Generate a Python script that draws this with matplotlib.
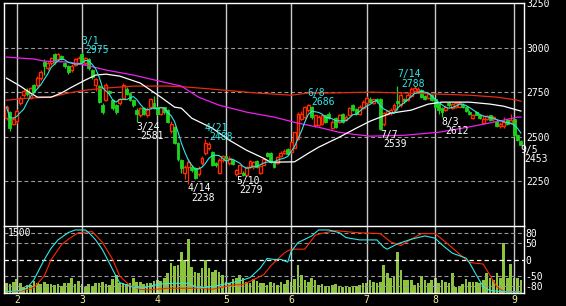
import numpy as np
import pandas as pd
import matplotlib
matplotlib.use("Agg")
import matplotlib.pyplot as plt

plt.rcParams['font.family'] = 'DejaVu Sans Mono'
plt.rcParams['axes.unicode_minus'] = False

# trading calendar (Tokyo, 2011)
holidays = ["2011-02-11", "2011-03-21", "2011-04-29", "2011-05-03",
            "2011-05-04", "2011-05-05", "2011-07-18"]
dates = pd.bdate_range("2011-01-27", "2011-09-05")
dates = dates[~dates.isin(pd.to_datetime(holidays))]

opens = [2605, 2638, 2575, 2590, 2690, 2735, 2760, 2718, 2790, 2790,
         2830, 2920, 2885, 2915, 2965, 2937, 2955, 2912, 2900, 2873,
         2905, 2915, 2965, 2915, 2935, 2875, 2790, 2785, 2680, 2705,
         2760, 2705, 2680, 2690, 2720, 2770, 2745, 2706, 2650, 2620,
         2660, 2620, 2665, 2690, 2670, 2630, 2665, 2650, 2535, 2555,
         2465, 2370, 2295, 2332, 2330, 2325, 2290, 2355, 2410, 2435,
         2415, 2355, 2295, 2370, 2390, 2355, 2370, 2290, 2300, 2300,
         2285, 2330, 2330, 2365, 2295, 2345, 2410, 2410, 2360, 2355,
         2390, 2410, 2430, 2415, 2440, 2490, 2600, 2610, 2650, 2670,
         2565, 2565, 2570, 2620, 2630, 2550, 2605, 2585, 2630, 2595,
         2620, 2680, 2655, 2630, 2660, 2690, 2710, 2690, 2715, 2715,
         2570, 2630, 2635, 2655, 2700, 2680, 2710, 2705, 2730, 2760,
         2760, 2765, 2730, 2720, 2735, 2710, 2690, 2660, 2650, 2690,
         2660, 2670, 2670, 2680, 2670, 2640, 2605, 2640, 2625, 2580,
         2600, 2620, 2600, 2590, 2560, 2560, 2595, 2580, 2600, 2510,
         2475]
closes = [2667, 2548, 2600, 2646, 2720, 2760, 2740, 2773, 2752, 2830,
          2863, 2900, 2915, 2940, 2920, 2965, 2940, 2898, 2865, 2900,
          2937, 2945, 2920, 2945, 2885, 2835, 2825, 2695, 2640, 2790,
          2745, 2660, 2640, 2715, 2790, 2740, 2706, 2680, 2630, 2660,
          2630, 2655, 2710, 2660, 2630, 2665, 2640, 2585, 2575, 2465,
          2375, 2325, 2330, 2360, 2315, 2270, 2325, 2380, 2465, 2460,
          2340, 2340, 2370, 2390, 2380, 2380, 2350, 2315, 2340, 2285,
          2330, 2365, 2360, 2330, 2335, 2375, 2395, 2360, 2330, 2385,
          2410, 2420, 2405, 2470, 2525, 2630, 2630, 2665, 2680, 2610,
          2620, 2610, 2620, 2585, 2605, 2585, 2555, 2620, 2585, 2610,
          2660, 2650, 2630, 2670, 2695, 2720, 2695, 2710, 2700, 2545,
          2635, 2645, 2650, 2680, 2690, 2735, 2700, 2735, 2770, 2775,
          2770, 2725, 2715, 2740, 2705, 2665, 2650, 2640, 2670, 2680,
          2685, 2690, 2690, 2670, 2645, 2630, 2625, 2625, 2605, 2600,
          2615, 2595, 2610, 2560, 2575, 2585, 2570, 2595, 2510, 2480,
          2455]
highs = [2680, 2645, 2610, 2655, 2730, 2770, 2775, 2780, 2795, 2840,
         2875, 2935, 2925, 2950, 2970, 2970, 2960, 2920, 2905, 2910,
         2945, 2955, 2975, 2950, 2940, 2880, 2830, 2790, 2690, 2800,
         2765, 2710, 2685, 2720, 2800, 2780, 2750, 2710, 2660, 2670,
         2670, 2665, 2720, 2730, 2675, 2670, 2670, 2655, 2590, 2560,
         2470, 2375, 2340, 2375, 2340, 2330, 2335, 2390, 2488, 2470,
         2420, 2360, 2380, 2400, 2395, 2390, 2375, 2320, 2345, 2310,
         2335, 2370, 2365, 2370, 2340, 2380, 2415, 2415, 2365, 2390,
         2420, 2430, 2435, 2475, 2530, 2640, 2645, 2675, 2686, 2675,
         2625, 2620, 2625, 2625, 2640, 2595, 2610, 2630, 2635, 2620,
         2665, 2685, 2660, 2680, 2705, 2730, 2725, 2715, 2720, 2720,
         2640, 2650, 2660, 2690, 2788, 2745, 2720, 2745, 2780, 2785,
         2780, 2770, 2735, 2745, 2740, 2715, 2695, 2665, 2680, 2695,
         2690, 2695, 2700, 2690, 2675, 2650, 2630, 2645, 2630, 2620,
         2625, 2625, 2615, 2600, 2585, 2610, 2600, 2630, 2605, 2515,
         2480]
lows = [2595, 2535, 2565, 2580, 2680, 2725, 2730, 2710, 2745, 2780,
        2820, 2850, 2875, 2905, 2910, 2930, 2930, 2885, 2855, 2865,
        2895, 2910, 2910, 2905, 2875, 2825, 2760, 2690, 2630, 2700,
        2735, 2650, 2630, 2680, 2710, 2735, 2700, 2670, 2581, 2610,
        2620, 2610, 2655, 2655, 2620, 2620, 2630, 2580, 2520, 2460,
        2365, 2300, 2265, 2238, 2305, 2265, 2280, 2345, 2400, 2425,
        2335, 2330, 2290, 2360, 2370, 2345, 2340, 2279, 2295, 2280,
        2280, 2325, 2320, 2325, 2290, 2340, 2385, 2355, 2325, 2350,
        2385, 2405, 2400, 2410, 2435, 2485, 2595, 2600, 2640, 2600,
        2555, 2560, 2565, 2580, 2600, 2545, 2550, 2580, 2580, 2590,
        2615, 2645, 2625, 2625, 2655, 2685, 2690, 2685, 2690, 2539,
        2560, 2620, 2625, 2640, 2650, 2670, 2690, 2700, 2725, 2755,
        2755, 2720, 2705, 2710, 2700, 2660, 2630, 2612, 2645, 2670,
        2655, 2660, 2665, 2660, 2640, 2625, 2600, 2620, 2600, 2575,
        2595, 2590, 2590, 2555, 2550, 2550, 2565, 2575, 2500, 2475,
        2453]
volume = [225, 200, 230, 300, 211, 128, 181, 170, 270, 211,
          188, 241, 188, 188, 170, 200, 160, 211, 211, 338,
          188, 263, 200, 130, 188, 151, 211, 226, 241, 200,
          170, 301, 391, 211, 226, 188, 226, 338, 250, 241,
          188, 226, 226, 263, 286, 263, 323, 450, 675, 600,
          623, 923, 736, 1200, 585, 472, 451, 548, 736, 548,
          473, 511, 473, 398, 248, 211, 301, 323, 398, 323,
          248, 211, 301, 271, 211, 211, 173, 248, 211, 173,
          248, 196, 286, 248, 301, 623, 398, 286, 248, 323,
          286, 173, 196, 151, 151, 173, 196, 121, 121, 151,
          121, 151, 151, 173, 226, 211, 286, 248, 211, 248,
          623, 451, 323, 361, 923, 511, 286, 286, 286, 173,
          211, 376, 286, 211, 286, 323, 226, 286, 248, 211,
          451, 136, 151, 196, 301, 248, 248, 248, 211, 286,
          436, 323, 286, 436, 323, 1110, 323, 645, 323, 323,
          286]

# moving averages (trading-day number, price)
ma_white_day = [0, 4, 7, 9, 13, 16, 19, 23, 26, 29, 33, 39, 45, 49, 51, 54, 60, 65,
                70, 75, 77, 84, 88, 91, 97, 102, 106, 112, 118, 123, 127, 135,
                141, 145, 149, 150]
ma_white_val = [2830, 2785, 2746, 2723, 2723, 2746, 2779, 2819, 2847, 2852, 2841,
                2802, 2723, 2667, 2661, 2605, 2549, 2481, 2425, 2380, 2358, 2360,
                2408, 2442, 2498, 2549, 2588, 2633, 2650, 2684, 2695, 2695, 2684,
                2672, 2650, 2645]
ma_mag_day = [0, 4, 8, 11, 18, 23, 29, 37, 47, 51, 56, 62, 70, 78, 85, 91, 97, 101,
              106, 116, 126, 133, 139, 145, 149, 150]
ma_mag_val = [2948, 2942, 2937, 2925, 2920, 2903, 2875, 2847, 2802, 2785, 2723,
              2678, 2639, 2611, 2577, 2554, 2526, 2515, 2504, 2509, 2526, 2549,
              2571, 2594, 2611, 2611]
ma_red_day = [0, 6, 13, 18, 23, 29, 37, 47, 53, 60, 73, 83, 88, 94, 106, 116, 126,
              135, 143, 149, 150]
ma_red_val = [2706, 2717, 2723, 2746, 2762, 2774, 2785, 2785, 2779, 2768, 2746,
              2734, 2746, 2746, 2751, 2746, 2740, 2734, 2723, 2706, 2700]

# oscillator (two lines, -100..100)
osc_cyan_day = [0, 4, 6, 8, 11, 13, 15, 18, 20, 23, 24, 26, 28, 30, 32, 33, 35, 37,
                40, 42, 45, 49, 53, 56, 59, 61, 68, 71, 74, 76, 78, 80, 82, 83,
                85, 86, 89, 91, 94, 97, 99, 103, 108, 110, 111, 114, 118, 122,
                125, 127, 130, 134, 135, 137, 139, 141, 146, 150]
osc_cyan_val = [-96, -93, -85, -60, 0, 35, 60, 82, 90, 90, 82, 60, 30, -10, -51,
                -69, -76, -83, -86, -79, -73, -71, -71, -85, -82, -79, -64, -54,
                -25, 4, 1, 1, -7, 25, 52, 57, 72, 90, 90, 82, 67, 60, 60, 38, 32,
                48, 62, 72, 65, 45, 20, 5, -9, -46, -81, -93, -97, -97]
osc_red_day = [0, 4, 8, 11, 13, 16, 18, 21, 25, 28, 31, 33, 36, 39, 41, 47, 56, 60,
               66, 69, 72, 75, 77, 79, 81, 83, 87, 90, 92, 96, 102, 109, 112, 115,
               118, 121, 125, 129, 133, 135, 139, 141, 143, 145, 150]
osc_red_val = [-96, -95, -84, -49, 0, 45, 62, 82, 85, 52, 0, -49, -78, -89, -91,
               -86, -86, -89, -76, -75, -60, -45, -19, 1, 21, 32, 32, 74, 80, 88,
               82, 79, 54, 43, 62, 79, 79, 45, 9, -8, -13, -47, -82, -96, -96]

peak_dates = ["2011-03-01", "2011-04-21", "2011-06-08", "2011-07-14"]
peak_vals = [2975, 2488, 2686, 2788]
trough_dates = ["2011-03-24", "2011-04-14", "2011-05-10", "2011-07-07",
                "2011-08-03", "2011-09-05"]
trough_vals = [2581, 2238, 2279, 2539, 2612, 2453]

price_ticks = [2250, 2500, 2750, 3000, 3250]
osc_ticks = [-80, -50, 0, 50, 80]

# ---------------------------------------------------------------
n = len(dates)
days = np.arange(n)
o = np.array(opens); c = np.array(closes)
h = np.array(highs); l = np.array(lows)
ma5 = pd.Series(closes).rolling(5, min_periods=1).mean()

month_start = [i for i in range(1, n) if dates[i].month != dates[i - 1].month]
month_lab = [str(dates[i].month) for i in month_start]

W, H = 566, 306
fig = plt.figure(figsize=(W / 100, H / 100), dpi=100, facecolor='black')
ax = fig.add_axes([4 / W, 1 - 226 / H, 520 / W, 223.5 / H], facecolor='black')
axo = fig.add_axes([4 / W, 1 - 292.7 / H, 520 / W, 66.7 / H], facecolor='black')
axv = axo.twinx()
axo.set_zorder(axv.get_zorder() + 1)
axo.patch.set_visible(False)

GREEN = '#1ed21e'
RED = '#ff2a00'
CYAN = '#30e8e8'
grid_kw = dict(color='#9a9a9a', lw=0.8, ls=(0, (3.5, 2.5)), zorder=0)

# main panel
for p in price_ticks[:-1]:
    ax.axhline(p, **grid_kw)
for m in month_start:
    ax.axvline(m, color='#c8c8c8', lw=1, zorder=0)
    axo.axvline(m, color='#c8c8c8', lw=1, zorder=0)

up = c >= o
ax.vlines(days[up], l[up], h[up], color=RED, lw=0.9, zorder=2)
ax.vlines(days[~up], l[~up], h[~up], color=GREEN, lw=0.9, zorder=2)
ax.bar(days[up], c[up] - o[up], bottom=o[up], width=0.85, facecolor='black',
       edgecolor=RED, lw=1.0, zorder=3)
ax.bar(days[~up], o[~up] - c[~up], bottom=c[~up], width=0.85, color=GREEN,
       edgecolor=GREEN, lw=0.6, zorder=3)

ax.plot(ma_red_day, ma_red_val, color='#e82a10', lw=0.9, zorder=4)
ax.plot(ma_mag_day, ma_mag_val, color='#f020f0', lw=0.9, zorder=4)
ax.plot(ma_white_day, ma_white_val, color='white', lw=0.9, zorder=4)
ax.plot(days, ma5, color=CYAN, lw=0.8, zorder=5)

lab_kw = dict(textcoords='offset points', ha='left', va='baseline',
              fontsize=7, annotation_clip=False, zorder=6)
for d, v in zip(peak_dates, peak_vals):
    i = dates.get_loc(pd.Timestamp(d))
    ts = pd.Timestamp(d)
    ax.annotate(f"{ts.month}/{ts.day}", (i, v), xytext=(-0.3, 5.8), color=CYAN, **lab_kw)
    ax.annotate(str(v), (i, v), xytext=(2.5, -0.9), color=CYAN, **lab_kw)
for d, v in zip(trough_dates, trough_vals):
    i = dates.get_loc(pd.Timestamp(d))
    ts = pd.Timestamp(d)
    ax.annotate(f"{ts.month}/{ts.day}", (i, v), xytext=(-0.3, -5.6), color='white', **lab_kw)
    ax.annotate(str(v), (i, v), xytext=(2.5, -12.2), color='white', **lab_kw)

ax.set_xlim(-0.73, 150.9)
ax.set_ylim(2000, 3254)
ax.set_xticks([])
ax.yaxis.tick_right()
ax.set_yticks(price_ticks)
ax.tick_params(axis='y', length=0, pad=2, colors='white', labelsize=7)
for s in ['top', 'left', 'right']:
    ax.spines[s].set_color('white')
    ax.spines[s].set_linewidth(1)
ax.spines['bottom'].set_visible(False)

# lower panel: volume + oscillator
axv.bar(days, volume, width=0.78, color='#8cc43c', zorder=1)
axv.set_ylim(0, 1500)
axv.set_yticks([])
for s in axv.spines.values():
    s.set_visible(False)

for v in [80, 50, -50, -80]:
    axo.axhline(v, **grid_kw)
axo.axhline(0, color='white', lw=0.9, ls=(0, (3.5, 2.5)), zorder=0)
axo.plot(osc_red_day, osc_red_val, color=RED, lw=0.8, zorder=3)
axo.plot(osc_cyan_day, osc_cyan_val, color=CYAN, lw=0.8, zorder=4)
axo.text(0.008, 0.97, "1500", transform=axo.transAxes, color='white',
         fontsize=7, va='top', ha='left')

axo.set_xlim(-0.73, 150.9)
axo.set_ylim(-99.4, 102)
axo.yaxis.tick_right()
axo.set_yticks(osc_ticks)
axo.tick_params(axis='y', length=0, pad=1, colors='white', labelsize=7)
axo.set_xticks(month_start)
axo.set_xticklabels(month_lab)
axo.tick_params(axis='x', length=0, pad=2, colors='#f2f2a0', labelsize=7)
for s in axo.spines.values():
    s.set_color('white')
    s.set_linewidth(1)

fig.savefig("out.png", dpi=100, facecolor='black')
